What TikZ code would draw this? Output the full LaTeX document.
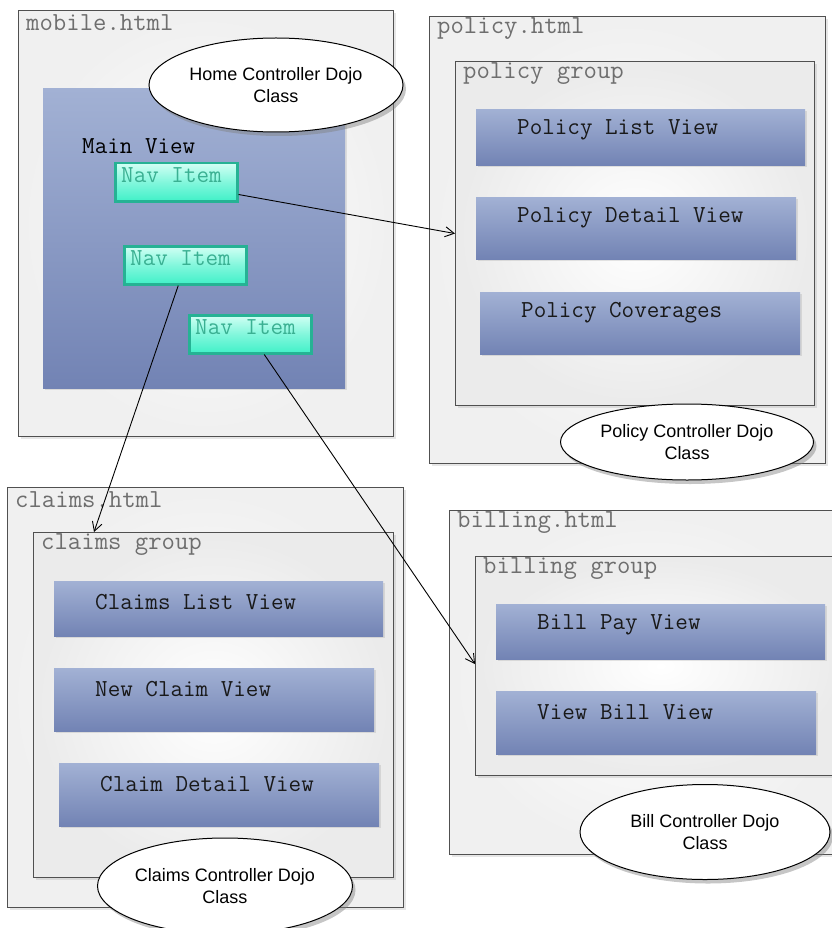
\documentclass[tikz,border=0pt]{standalone}
\usepackage{fontspec}
\setsansfont{Liberation Sans}
\usetikzlibrary{shapes.geometric,shadows,arrows.meta}

\definecolor{viewtop}{RGB}{162,177,212}
\definecolor{viewbot}{RGB}{114,131,180}
\definecolor{navtop}{RGB}{210,255,244}
\definecolor{navbot}{RGB}{64,240,200}
\definecolor{navline}{RGB}{38,178,148}
\definecolor{navtext}{RGB}{58,176,146}
\definecolor{boxline}{RGB}{80,80,80}
\definecolor{htmltext}{RGB}{110,110,110}

\newcommand\htmlfont{\ttfamily\fontsize{26}{30}\selectfont}
\newcommand\viewfont{\ttfamily\fontsize{24.4}{28}\selectfont}
\newcommand\dojofont{\sffamily\fontsize{18}{22}\selectfont}

\tikzset{
  outerbox/.style={draw=boxline, line width=1.1pt, anchor=north west, inner sep=0pt,
    inner color=white, outer color=black!6,
    drop shadow={shadow xshift=2pt, shadow yshift=-2pt, opacity=.2}},
  groupbox/.style={outerbox, inner color=white, outer color=black!8},
  viewbox/.style={anchor=north west, inner sep=0pt, top color=viewtop, bottom color=viewbot,
    drop shadow={shadow xshift=2pt, shadow yshift=-2pt, opacity=.2}},
  navbox/.style={anchor=north west, inner sep=0pt, draw=navline, line width=2.5pt,
    top color=navtop, bottom color=navbot, middle color=navbot!55!navtop,
    minimum width=122pt, minimum height=38pt,
    drop shadow={shadow xshift=1.5pt, shadow yshift=-1.5pt, opacity=.25}},
  htmllabel/.style={anchor=west, xshift=8pt, yshift=-13pt, inner sep=0pt,
    font=\htmlfont, text=htmltext},
  viewlabel/.style={anchor=west, xshift=41pt, yshift=-21pt, inner sep=0pt,
    font=\viewfont, text=black!90},
  navlabel/.style={anchor=west, xshift=7pt, yshift=-13pt, inner sep=0pt,
    font=\viewfont, text=navtext},
  dojo/.style={ellipse, draw, line width=1pt, fill=white, inner sep=0pt,
    align=center, font=\dojofont,
    drop shadow={shadow xshift=3pt, shadow yshift=-4pt, opacity=.45}},
  link/.style={-{Straight Barb[length=9pt,width=10pt]}, line width=0.9pt}
}

\begin{document}
\begin{tikzpicture}[x=1pt, y=-1pt]
  \useasboundingbox (0,0) rectangle (831,928);

  % mobile.html
  \node[outerbox, minimum width=375pt, minimum height=426pt,
        label={[htmllabel]north west:mobile.html}] (mobile) at (18,10) {};
  \node[viewbox, minimum width=302pt, minimum height=300pt] (mainview) at (43,88) {};
  \node[anchor=west, inner sep=0pt, font=\viewfont] (mainlbl) at (82,146) {Main View};
  \node[navbox, label={[navlabel]north west:Nav Item}] (nav1) at (114,162) {};
  \node[navbox, label={[navlabel]north west:Nav Item}] (nav2) at (123,245) {};
  \node[navbox, label={[navlabel]north west:Nav Item}] (nav3) at (188,314) {};
  \node[dojo, minimum width=254pt, minimum height=94pt] (homedojo) at (276,85)
    {Home Controller Dojo\\Class};

  % policy.html
  \node[outerbox, minimum width=396pt, minimum height=447pt,
        label={[htmllabel]north west:policy.html}] (policy) at (429,16) {};
  \node[groupbox, minimum width=359pt, minimum height=344pt,
        label={[htmllabel]north west:policy group}] (pgroup) at (455,61) {};
  \node[viewbox, minimum width=329pt, minimum height=56pt,
        label={[viewlabel]north west:Policy List View}] (plist) at (476,109) {};
  \node[viewbox, minimum width=320pt, minimum height=62pt,
        label={[viewlabel]north west:Policy Detail View}] (pdetail) at (476,197) {};
  \node[viewbox, minimum width=320pt, minimum height=62pt,
        label={[viewlabel]north west:Policy Coverages}] (pcover) at (480,292) {};
  \node[dojo, minimum width=253pt, minimum height=76pt] (policydojo) at (687,442)
    {Policy Controller Dojo\\Class};

  % claims.html
  \node[outerbox, minimum width=396pt, minimum height=420pt,
        label={[htmllabel]north west:claims.html}] (claims) at (7,487) {};
  \node[groupbox, minimum width=360pt, minimum height=345pt,
        label={[htmllabel]north west:claims group}] (cgroup) at (33,532) {};
  \node[viewbox, minimum width=329pt, minimum height=55pt,
        label={[viewlabel]north west:Claims List View}] (clist) at (54,581) {};
  \node[viewbox, minimum width=320pt, minimum height=63pt,
        label={[viewlabel]north west:New Claim View}] (cnew) at (54,668) {};
  \node[viewbox, minimum width=320pt, minimum height=63pt,
        label={[viewlabel]north west:Claim Detail View}] (cdetail) at (59,763) {};
  \node[dojo, minimum width=255pt, minimum height=96pt] (claimsdojo) at (225,886)
    {Claims Controller Dojo\\Class};

  % billing.html
  \node[outerbox, minimum width=400pt, minimum height=344pt,
        label={[htmllabel]north west:billing.html}] (billing) at (449,510) {};
  \node[groupbox, minimum width=370pt, minimum height=219pt,
        label={[htmllabel]north west:billing group}] (bgroup) at (475,556) {};
  \node[viewbox, minimum width=329pt, minimum height=55pt,
        label={[viewlabel]north west:Bill Pay View}] (bpay) at (496,604) {};
  \node[viewbox, minimum width=320pt, minimum height=63pt,
        label={[viewlabel]north west:View Bill View}] (bview) at (496,691) {};
  \node[dojo, minimum width=250pt, minimum height=95pt] (billdojo) at (705,832)
    {Bill Controller Dojo\\Class};

  \draw[link] ([yshift=8pt]nav1.south east) -- (pgroup.west);
  \draw[link] ([xshift=-7pt]nav2.south) -- ([xshift=61pt]cgroup.north west);
  \draw[link] ([xshift=14pt]nav3.south) -- ([yshift=2pt]bgroup.west);
\end{tikzpicture}
\end{document}
